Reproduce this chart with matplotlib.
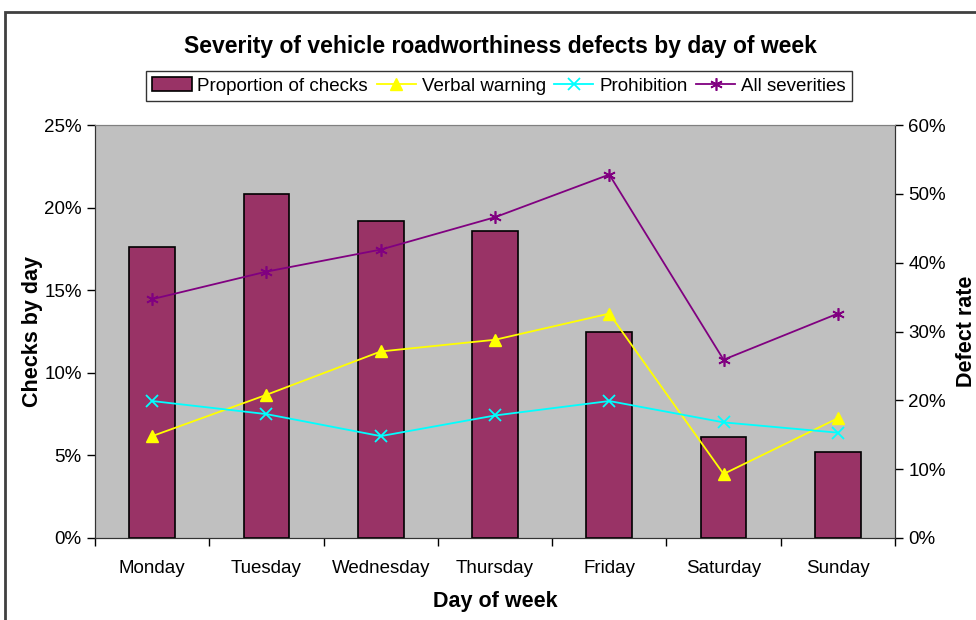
import matplotlib.pyplot as plt
import numpy as np
from matplotlib.patches import Rectangle
from matplotlib.ticker import FuncFormatter, MultipleLocator

plt.rcParams['font.family'] = ['Liberation Sans', 'DejaVu Sans']

days = ['Monday', 'Tuesday', 'Wednesday', 'Thursday', 'Friday', 'Saturday', 'Sunday']
checks = [17.6, 20.8, 19.2, 18.6, 12.5, 6.1, 5.2]          # left axis, %
verbal = [14.8, 20.8, 27.1, 28.8, 32.6, 9.3, 17.4]         # right axis, %
prohibition = [19.9, 18.0, 14.8, 17.8, 19.9, 16.8, 15.3]   # right axis, %
all_sev = [34.7, 38.7, 41.9, 46.6, 52.8, 25.9, 32.6]       # right axis, %

fig = plt.figure(figsize=(9.76, 6.2), dpi=100)
ax = fig.add_axes([95 / 976, 82 / 620, 800 / 976, 413 / 620])
ax2 = ax.twinx()

x = np.arange(len(days))
bars = ax.bar(x, checks, width=0.4, color='#993366', edgecolor='black',
              linewidth=1.2, label='Proportion of checks', zorder=2)
ax.set_facecolor('#C0C0C0')
ax.set_xlim(-0.5, len(days) - 0.5)
ax.set_ylim(0, 25)
ax.yaxis.set_major_locator(MultipleLocator(5))
ax.yaxis.set_major_formatter(FuncFormatter(lambda v, p: f'{v:.0f}%'))
ax.set_xticks(x)
ax.set_xticklabels(days, fontsize=13.5)
ax.set_xticks(np.arange(-0.5, len(days)), minor=True)
ax.tick_params(axis='x', which='major', length=0, pad=16)
ax.tick_params(axis='x', which='minor', length=6, direction='out', width=1)
ax.tick_params(axis='y', labelsize=13.5, length=6, direction='out', width=1)

l1, = ax2.plot(x, verbal, color='#FFFF00', marker='^', markersize=8, lw=1.3,
               label='Verbal warning')
l2, = ax2.plot(x, prohibition, color='#00FFFF', marker='x', markersize=8, lw=1.3,
               mew=1.3, label='Prohibition')
l3, = ax2.plot(x, all_sev, color='#800080', marker=(6, 2, 0), markersize=9, lw=1.3,
               mew=1.2, label='All severities')
ax2.set_ylim(0, 60)
ax2.yaxis.set_major_locator(MultipleLocator(10))
ax2.yaxis.set_major_formatter(FuncFormatter(lambda v, p: f'{v:.0f}%'))
ax2.tick_params(axis='y', labelsize=13.5, length=6, direction='out', width=1)

for a in (ax, ax2):
    a.spines['top'].set_color('#808080')
    a.spines['left'].set_color('#333333')
    a.spines['right'].set_color('#333333')
    a.spines['bottom'].set_color('#333333')

ax.set_xlabel('Day of week', fontsize=15.5, fontweight='bold', labelpad=10)
ax.set_ylabel('Checks by day', fontsize=15.5, fontweight='bold', labelpad=1)
ax2.set_ylabel('Defect rate', fontsize=15.5, fontweight='bold', labelpad=7)

fig.text(500 / 976, 1 - 46 / 620, 'Severity of vehicle roadworthiness defects by day of week',
         ha='center', va='center', fontsize=16.5, fontweight='bold')

leg = fig.legend([bars, l1, l2, l3],
                 ['Proportion of checks', 'Verbal warning', 'Prohibition', 'All severities'],
                 loc='center', bbox_to_anchor=(499 / 976, 1 - 86 / 620), ncol=4,
                 fontsize=13.5, frameon=True, fancybox=False, edgecolor='black',
                 handlelength=2.1, handletextpad=0.3, columnspacing=0.45,
                 borderpad=0.35)
leg.get_frame().set_linewidth(1)

fig.patches.append(Rectangle((5 / 976, -0.05), 1.1, 1 - 12 / 620 + 0.05,
                             transform=fig.transFigure, fill=False,
                             edgecolor='#404040', linewidth=2))

fig.savefig('out.png', dpi=100)
